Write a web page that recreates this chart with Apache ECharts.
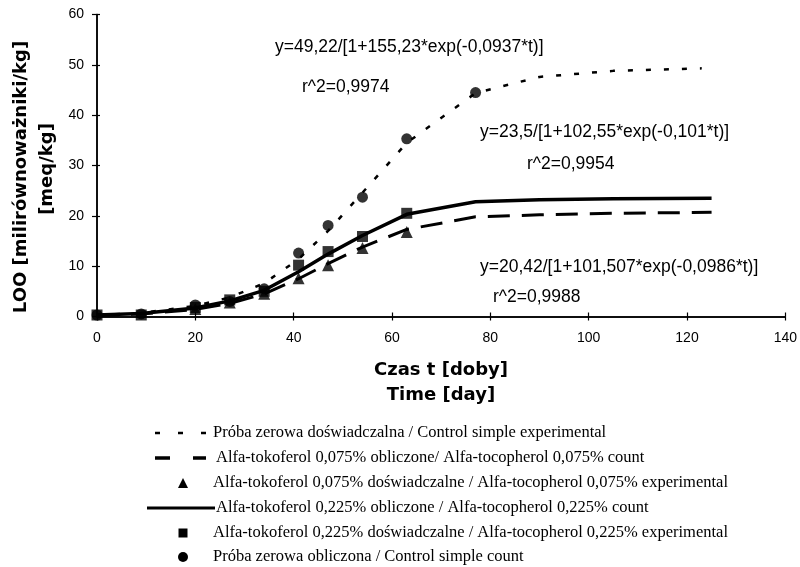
<!DOCTYPE html>
<html>
<head>
<meta charset="utf-8">
<script src="https://cdn.jsdelivr.net/npm/echarts@6/dist/echarts.min.js"></script>
<style>
  html, body { margin: 0; padding: 0; background: #fff; }
  #chart { width: 800px; height: 567px; }
</style>
</head>
<body>
<div id="chart"></div>
<script>
// czas dla krzywych dopasowanych
var tCurve = [0, 9, 20, 27, 34, 41, 47, 54, 63, 77, 90, 105, 125];
var tCtrlCurve = [0, 9, 20, 27, 34, 41, 47, 54, 63, 77, 90, 105, 123];
var ctrlCurve = [0.3, 0.7, 2.1, 3.8, 6.6, 11.4, 17.0, 24.6, 34.5, 44.4, 47.6, 48.8, 49.3];
var toco075Curve = [0.2, 0.5, 1.4, 2.6, 4.5, 7.5, 10.5, 13.8, 17.3, 19.8, 20.2, 20.5, 20.7];
var toco225Curve = [0.3, 0.6, 1.7, 3.1, 5.2, 8.9, 12.4, 16.1, 20.3, 22.8, 23.2, 23.4, 23.5];

// punkty doswiadczalne
var tCtrlExp = [0, 9, 20, 27, 34, 41, 47, 54, 63, 77];
var ctrlExp = [0.3, 0.5, 2.3, 3.0, 5.5, 12.6, 18.1, 23.7, 35.3, 44.5];
var tToco075Exp = [20, 27, 34, 41, 47, 54, 63];
var toco075Exp = [1.5, 2.8, 4.5, 7.6, 10.2, 13.6, 16.8];
var tToco225Exp = [0, 9, 20, 27, 34, 41, 47, 54, 63];
var toco225Exp = [0.3, 0.3, 1.8, 3.3, 5.0, 10.2, 12.9, 15.9, 20.5];

var xTicks = [0, 20, 40, 60, 80, 100, 120, 140];
var yTicks = [0, 10, 20, 30, 40, 50, 60];

var seriesNames = [
  'Próba zerowa doświadczalna / Control simple experimental',
  'Alfa-tokoferol 0,075% obliczone/ Alfa-tocopherol 0,075% count',
  'Alfa-tokoferol 0,075% doświadczalne / Alfa-tocopherol 0,075% experimental',
  'Alfa-tokoferol 0,225% obliczone / Alfa-tocopherol 0,225% count',
  'Alfa-tokoferol 0,225% doświadczalne / Alfa-tocopherol 0,225% experimental',
  'Próba zerowa obliczona / Control simple count'
];

var equations = [
  {text: 'y=49,22/[1+155,23*exp(-0,0937*t)]', x: 275, y: 47},
  {text: 'r^2=0,9974', x: 302, y: 87},
  {text: 'y=23,5/[1+102,55*exp(-0,101*t)]', x: 480, y: 132},
  {text: 'r^2=0,9954', x: 527, y: 164},
  {text: 'y=20,42/[1+101,507*exp(-0,0986*t)]', x: 480, y: 267},
  {text: 'r^2=0,9988', x: 493, y: 297}
];

function pairs(xs, ys) {
  var out = [];
  for (var i = 0; i < xs.length; i++) out.push([xs[i], ys[i]]);
  return out;
}

var chart = echarts.init(document.getElementById('chart'), null, {renderer: 'canvas'});

var axisFont = {color: '#000', fontFamily: 'Liberation Sans', fontSize: 14};

// legenda rysowana recznie (symbol po lewej, tekst szeryfowy)
var legendGraphics = [];
var rowY = [433, 458, 483, 508, 533, 557];
var textX = [213, 216, 213, 216, 213, 213];
legendGraphics.push({type: 'line', shape: {x1: 155, y1: rowY[0], x2: 206, y2: rowY[0]},
  style: {stroke: '#000', lineWidth: 2.5, lineDash: [5, 18]}});
legendGraphics.push({type: 'line', shape: {x1: 155, y1: rowY[1], x2: 206, y2: rowY[1]},
  style: {stroke: '#000', lineWidth: 3.5, lineDash: [15, 23]}});
legendGraphics.push({type: 'polygon', shape: {points: [[183, rowY[2] - 5], [188, rowY[2] + 5], [178, rowY[2] + 5]]},
  style: {fill: '#000'}});
legendGraphics.push({type: 'line', shape: {x1: 147, y1: rowY[3], x2: 215, y2: rowY[3]},
  style: {stroke: '#000', lineWidth: 3}});
legendGraphics.push({type: 'rect', shape: {x: 178.5, y: rowY[4] - 4.5, width: 9, height: 9},
  style: {fill: '#000'}});
legendGraphics.push({type: 'circle', shape: {cx: 183, cy: rowY[5], r: 5},
  style: {fill: '#000'}});
for (var i = 0; i < seriesNames.length; i++) {
  legendGraphics.push({type: 'text', x: textX[i], y: rowY[i],
    style: {text: seriesNames[i], fill: '#000', font: '16.5px "Liberation Serif"', verticalAlign: 'middle'}});
}

var textGraphics = equations.map(function (e) {
  return {type: 'text', x: e.x, y: e.y,
    style: {text: e.text, fill: '#000', font: '17.5px "Liberation Sans"', verticalAlign: 'middle'}};
});

// tytuly osi
var titleGraphics = [
  {type: 'text', x: 21, y: 177, rotation: Math.PI / 2,
    style: {text: 'LOO [milirównoważniki/kg]', fill: '#000', font: 'bold 18px "DejaVu Sans"', align: 'center', verticalAlign: 'middle'}},
  {type: 'text', x: 47, y: 169, rotation: Math.PI / 2,
    style: {text: '[meq/kg]', fill: '#000', font: 'bold 18px "DejaVu Sans"', align: 'center', verticalAlign: 'middle'}},
  {type: 'text', x: 441, y: 370,
    style: {text: 'Czas t [doby]', fill: '#000', font: 'bold 18px "DejaVu Sans"', align: 'center', verticalAlign: 'middle'}},
  {type: 'text', x: 441, y: 395,
    style: {text: 'Time [day]', fill: '#000', font: 'bold 18px "DejaVu Sans"', align: 'center', verticalAlign: 'middle'}}
];

var tickStyle = {color: '#000', width: 1.2};
var lineStyleAxis = {color: '#000', width: 1.5};

var option = {
  animation: false,
  backgroundColor: '#fff',
  grid: {left: 97, right: 14, top: 14.5, bottom: 250.5},
  xAxis: [
    {
      type: 'value', min: 0, max: 140, interval: 20, position: 'bottom',
      axisLine: {show: true, onZero: false, lineStyle: lineStyleAxis},
      axisTick: {show: true, inside: false, length: 4, lineStyle: tickStyle},
      axisLabel: Object.assign({margin: 15}, axisFont),
      splitLine: {show: false}
    },
    {
      // druga os tylko po to by znaczniki przechodzily przez os
      type: 'value', min: 0, max: 140, interval: 20, position: 'bottom',
      axisLine: {show: true, onZero: false, lineStyle: lineStyleAxis},
      axisTick: {show: true, inside: true, length: 4, lineStyle: tickStyle},
      axisLabel: {show: false},
      splitLine: {show: false}
    }
  ],
  yAxis: [
    {
      type: 'value', min: 0, max: 60, interval: 10, position: 'left',
      axisLine: {show: true, onZero: false, lineStyle: lineStyleAxis},
      axisTick: {show: true, inside: false, length: 5, lineStyle: tickStyle},
      axisLabel: Object.assign({margin: 13}, axisFont),
      splitLine: {show: false}
    },
    {
      type: 'value', min: 0, max: 60, interval: 10, position: 'left',
      axisLine: {show: true, onZero: false, lineStyle: lineStyleAxis},
      axisTick: {show: true, inside: true, length: 3, lineStyle: tickStyle},
      axisLabel: {show: false},
      splitLine: {show: false}
    }
  ],
  series: [
    {
      name: seriesNames[0], type: 'line', data: pairs(tCtrlCurve, ctrlCurve),
      showSymbol: false, symbol: 'none',
      lineStyle: {color: '#000', width: 2.5, type: [5, 13]}
    },
    {
      name: seriesNames[1], type: 'line', data: pairs(tCurve, toco075Curve),
      showSymbol: false, symbol: 'none',
      lineStyle: {color: '#000', width: 3, type: [22, 12]}
    },
    {
      name: seriesNames[3], type: 'line', data: pairs(tCurve, toco225Curve),
      showSymbol: false, symbol: 'none',
      lineStyle: {color: '#000', width: 3.5, type: 'solid'}
    },
    {
      name: seriesNames[2], type: 'scatter', data: pairs(tToco075Exp, toco075Exp),
      symbol: 'triangle', symbolSize: 12, itemStyle: {color: '#000'}
    },
    {
      name: seriesNames[4], type: 'scatter', data: pairs(tToco225Exp, toco225Exp),
      symbol: 'rect', symbolSize: 11, itemStyle: {color: '#000'}
    },
    {
      name: seriesNames[5], type: 'scatter', data: pairs(tCtrlExp, ctrlExp),
      symbol: 'circle', symbolSize: 11, itemStyle: {color: '#000'}
    }
  ],
  graphic: legendGraphics.concat(textGraphics, titleGraphics)
};

chart.setOption(option);
</script>
</body>
</html>
